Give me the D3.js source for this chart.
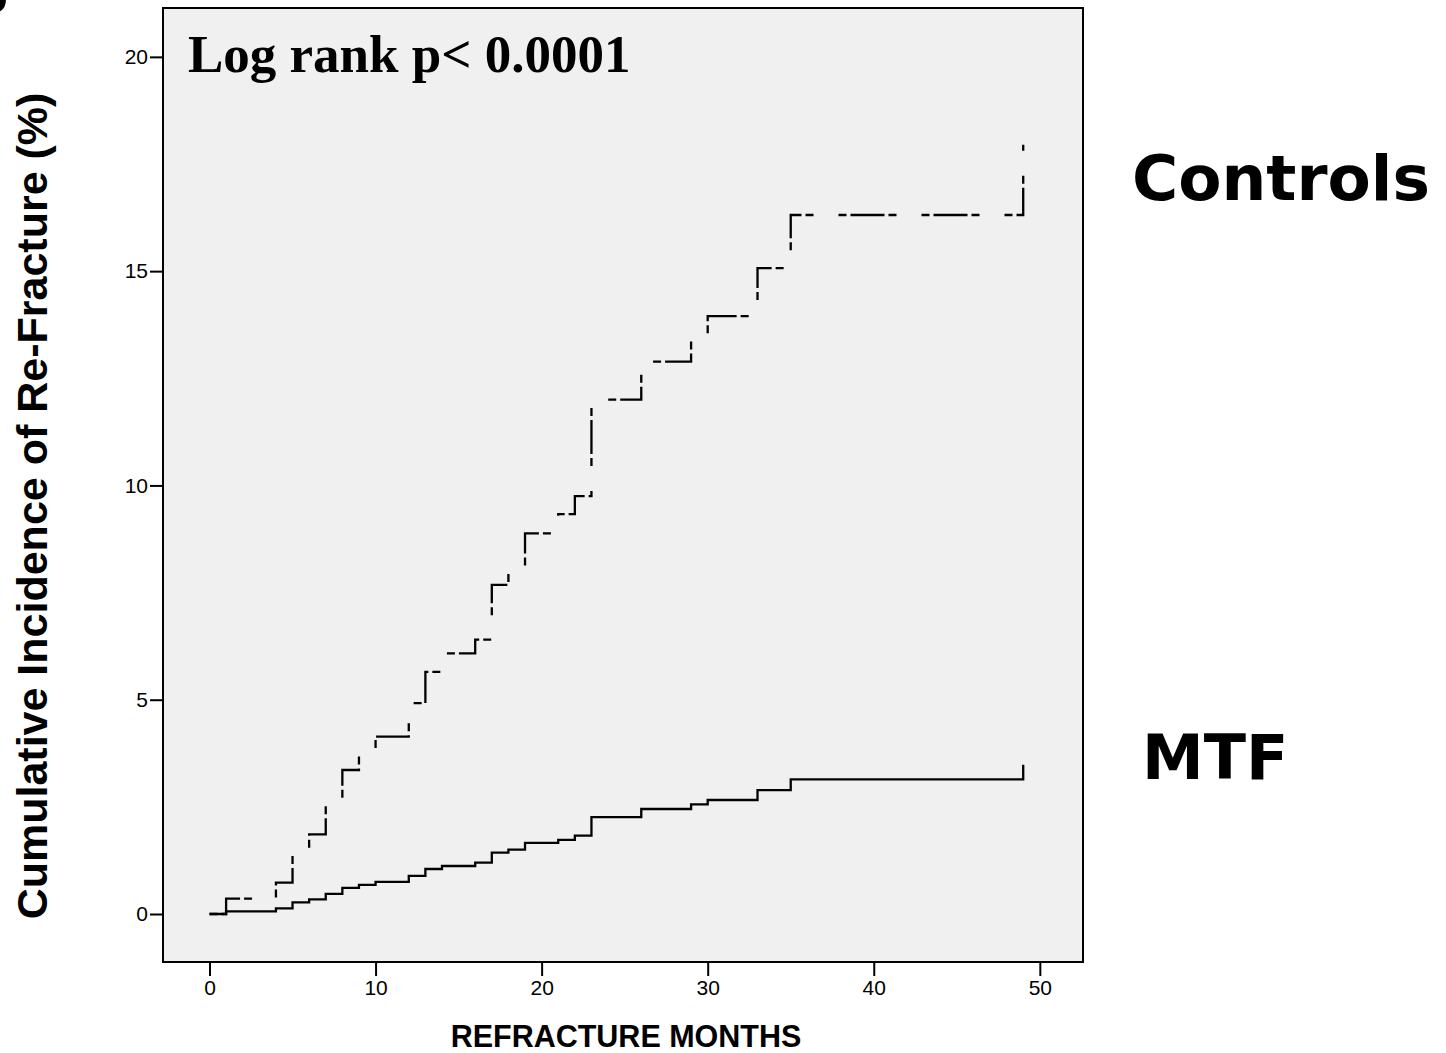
<!DOCTYPE html>
<html>
<head>
<meta charset="utf-8">
<script src="https://cdn.jsdelivr.net/npm/d3@7"></script>
<style>
  body { margin: 0; background: #fff; }
  svg { display: block; }
</style>
</head>
<body>
<div id="chart"></div>
<script>
// event months (both groups step at the same months)
const months = [0, 1, 4, 5, 6, 7, 8, 9, 10, 12, 13, 14, 16, 17, 18, 19, 21, 22, 23, 26, 29, 30, 33, 35, 49];
// cumulative incidence of re-fracture (%)
const controls = [0, 0.36, 0.73, 1.47, 1.86, 2.6, 3.36, 3.75, 4.14, 4.92, 5.65, 6.08, 6.4, 7.68, 8.09, 8.88, 9.33, 9.75, 12.0, 12.89, 13.42, 13.95, 15.07, 16.31, 17.95];
const mtf = [0, 0.06, 0.13, 0.27, 0.34, 0.47, 0.61, 0.68, 0.75, 0.89, 1.05, 1.12, 1.2, 1.43, 1.5, 1.66, 1.73, 1.83, 2.26, 2.45, 2.56, 2.66, 2.89, 3.14, 3.48];

const xTicks = [0, 10, 20, 30, 40, 50];
const yTicks = [0, 5, 10, 15, 20];

const W = 1446, H = 1053;
const plot = {left: 163, top: 8, right: 1083, bottom: 962};

const svg = d3.select("#chart").append("svg")
    .attr("width", W)
    .attr("height", H);

// scales
var x = d3.scaleLinear()
    .domain([-2.8, 52.6])
    .range([plot.left, plot.right]);
var y = d3.scaleLinear()
    .domain([-1.12, 21.14])
    .range([plot.bottom, plot.top]);

// plot background
svg.append("rect")
    .attr("x", plot.left)
    .attr("y", plot.top)
    .attr("width", plot.right - plot.left)
    .attr("height", plot.bottom - plot.top)
    .attr("fill", "#f0f0f0");

// axes
const xAxis = svg.append("g")
    .attr("transform", "translate(0," + plot.bottom + ")")
    .call(d3.axisBottom(x).tickValues(xTicks).tickSize(14).tickPadding(4).tickSizeOuter(0));
const yAxis = svg.append("g")
    .attr("transform", "translate(" + plot.left + ",0)")
    .call(d3.axisLeft(y).tickValues(yTicks).tickSize(13).tickPadding(2).tickSizeOuter(0));

[xAxis, yAxis].forEach(function(g) {
    g.select(".domain").remove();
    g.selectAll("line").attr("stroke", "#000").attr("stroke-width", 2);
    g.selectAll("text")
        .attr("fill", "#000")
        .style("font-family", "'Liberation Sans', Arial, sans-serif")
        .style("font-size", "21px");
});

// step curves
const stepLine = d3.line()
    .x(function(d) { return x(d[0]); })
    .y(function(d) { return y(d[1]); })
    .curve(d3.curveStepAfter);

svg.append("path")
    .datum(months.map(function(m, i) { return [m, controls[i]]; }))
    .attr("d", stepLine)
    .attr("fill", "none")
    .attr("stroke", "#000")
    .attr("stroke-width", 2.3)
    .attr("stroke-dasharray", "8,4,34,4,8,25");

svg.append("path")
    .datum(months.map(function(m, i) { return [m, mtf[i]]; }))
    .attr("d", stepLine)
    .attr("fill", "none")
    .attr("stroke", "#000")
    .attr("stroke-width", 2.3);

// frame
svg.append("rect")
    .attr("x", plot.left)
    .attr("y", plot.top)
    .attr("width", plot.right - plot.left)
    .attr("height", plot.bottom - plot.top)
    .attr("fill", "none")
    .attr("stroke", "#000")
    .attr("stroke-width", 2);

// annotation in plot
svg.append("text")
    .attr("x", 188)
    .attr("y", 72)
    .style("font-family", "'Liberation Serif', 'Times New Roman', serif")
    .style("font-weight", "bold")
    .style("font-size", "53px")
    .text("Log rank p< 0.0001");

// group labels
svg.append("text")
    .attr("x", 1132)
    .attr("y", 200)
    .style("font-family", "'DejaVu Sans', Verdana, sans-serif")
    .style("font-weight", "bold")
    .style("font-size", "63px")
    .text("Controls");

svg.append("text")
    .attr("x", 1142)
    .attr("y", 779)
    .style("font-family", "'DejaVu Sans', Verdana, sans-serif")
    .style("font-weight", "bold")
    .style("font-size", "62px")
    .text("MTF");

// axis titles
svg.append("text")
    .attr("x", 626)
    .attr("y", 1047)
    .attr("text-anchor", "middle")
    .style("font-family", "'Liberation Sans', Arial, sans-serif")
    .style("font-weight", "bold")
    .style("font-size", "30.5px")
    .text("REFRACTURE MONTHS");

svg.append("text")
    .attr("transform", "translate(47,506) rotate(-90)")
    .attr("text-anchor", "middle")
    .style("font-family", "'Liberation Sans', Arial, sans-serif")
    .style("font-weight", "bold")
    .style("font-size", "43px")
    .text("Cumulative Incidence of Re-Fracture (%)");

// cropped panel letter at the corner (cut off in the original too)
svg.append("text")
    .attr("x", 8)
    .attr("y", 12)
    .attr("text-anchor", "end")
    .style("font-family", "'Liberation Sans', Arial, sans-serif")
    .style("font-weight", "bold")
    .style("font-size", "50px")
    .text("b");
</script>
</body>
</html>
